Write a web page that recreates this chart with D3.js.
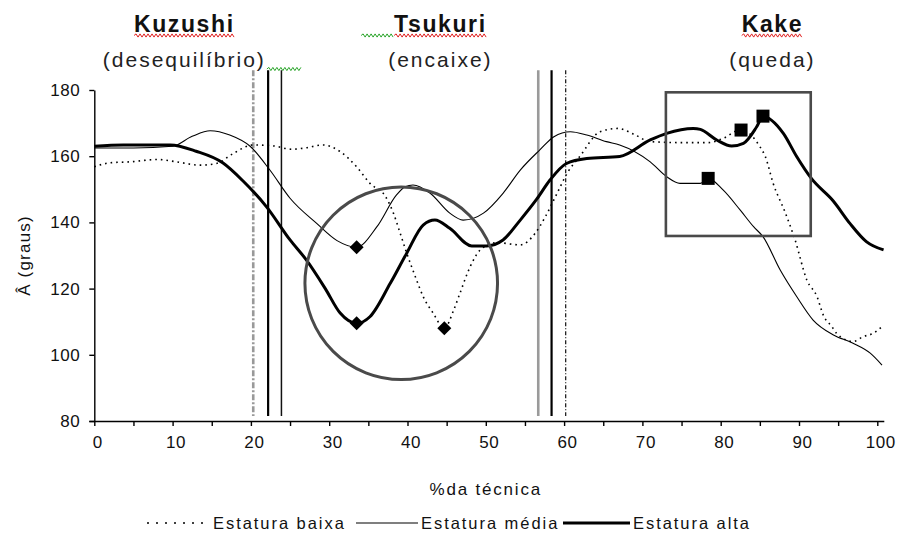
<!DOCTYPE html>
<html>
<head>
<meta charset="utf-8">
<script src="https://cdn.jsdelivr.net/npm/d3@7"></script>
<style>
  html, body { margin: 0; padding: 0; background: #fff; }
  svg { display: block; font-family: "Liberation Sans", Arial, sans-serif; }
</style>
</head>
<body>
<svg id="chart" width="900" height="538"></svg>
<script>
// ---- data ----
const seriesNames = ["Estatura baixa", "Estatura média", "Estatura alta"];

const baixaX = [0, 2, 4.6, 8, 10.5, 13.5, 15.6, 17.8, 20.3, 22.9, 25.2, 27, 29.2, 31.4, 33.5, 35.2, 37.2, 38.2, 39, 39.9, 41, 42, 43.3, 44.7, 45.9, 46.7, 48, 49.3, 51.4, 54.4, 56.3, 57.6, 58.9, 60.5, 62, 64.6, 66.9, 69, 71, 75.2, 78.4, 80.3, 82.6, 85, 85.7, 86.7, 88.2, 89.5, 91, 92.3, 93.1, 94.2, 94.8, 96.9, 98.2, 99.5, 100.6];
const baixaY = [156.8, 158, 158.3, 159, 158.3, 157.3, 157.8, 160.9, 163.4, 163.1, 162.1, 162.5, 163.4, 161.4, 156.8, 151.8, 147.8, 142.8, 137.2, 130.7, 123.6, 117.6, 112.5, 108, 113.5, 118.6, 126.6, 131.7, 133.9, 133.2, 136.7, 141.7, 147.8, 155.3, 159.9, 167.4, 168.4, 166.5, 164.4, 164.1, 164.1, 165.4, 168, 162.9, 159.9, 151.8, 143.2, 134.7, 122.6, 117.6, 112, 108.5, 106.5, 104, 105.5, 106.5, 108.5];

const mediaX = [0, 5, 10, 12.5, 14.8, 17.3, 19.9, 22.4, 25, 28.4, 31, 33.5, 36.1, 38.6, 39.7, 40.7, 42.9, 45.4, 47.1, 49.7, 52.2, 54.4, 56.9, 58.7, 60.8, 62.9, 65.4, 67.1, 71, 73.1, 74.8, 77.4, 78.4, 80.3, 82.5, 84.2, 85.4, 87.6, 89.7, 91.8, 94.4, 96.9, 99.1, 100.6];
const mediaY = [162.5, 162.5, 163, 166, 167.7, 166.4, 163, 155.9, 147.3, 139.7, 134.5, 132.5, 138.7, 148.3, 150.8, 151.3, 148.8, 142.8, 140.7, 142.8, 148.8, 155.8, 161.9, 165.9, 167.4, 166.4, 164.4, 163.4, 158.3, 153.8, 151.8, 151.8, 153.3, 149.8, 143.7, 138.7, 135.7, 125.6, 117.6, 110.5, 106, 103.5, 100.5, 96.9];

const altaX = [0, 3.7, 9.7, 13, 16.4, 19, 22, 25, 27.1, 29.5, 31.4, 33.5, 35.2, 37.8, 39.9, 42, 43.5, 45.4, 48.2, 50.1, 52.2, 54.4, 56.5, 58.2, 60.3, 62.9, 67.1, 71, 73.1, 76.5, 77.4, 79.5, 81.4, 82.9, 84.6, 85.4, 88, 89.7, 91.6, 94.4, 96.5, 98.6, 100.8];
const altaY = [163, 163.4, 163.4, 161.5, 158, 152.5, 144.7, 134.7, 128.6, 120, 112.6, 109.5, 111.5, 121.6, 130.7, 139.2, 140.7, 138.2, 132.9, 132.9, 134.7, 140.7, 147, 152.8, 157.8, 159.3, 159.9, 164.9, 166.9, 168.4, 168.1, 164.9, 163.1, 163.9, 168.9, 172, 166.9, 159.9, 153.2, 146.4, 139.7, 134.2, 131.7];

// highlighted minima (diamonds) and maxima (squares)
const diamondX = [33.5, 33.5, 44.7];
const diamondY = [132.5, 109.5, 108];
const squareX = [78.4, 82.6, 85.4];
const squareY = [153.3, 167.9, 172.1];

// phase boundaries (% of technique)
const phaseLinesX = [20.3, 22.2, 23.9, 56.7, 58.4, 60.2];

// phase headings
const phaseTitles = ["Kuzushi", "Tsukuri", "Kake"];
const phaseSubtitles = ["(desequilíbrio)", "(encaixe)", "(queda)"];
const phaseCentersX = [11.5, 44.2, 86.6];

// annotation regions
const circleCenter = [39.2, 121.6];
const circleRadiusX = 12.3;
const boxX = [73.0, 91.5];
const boxY = [135.9, 179.3];

const xTickValues = d3.range(0, 101, 5);
const yTickValues = [80, 100, 120, 140, 160, 180];
const xTitle = "%da técnica";
const yTitle = "Â (graus)";

// ---- layout ----
const svg = d3.select("#chart");
const x = d3.scaleLinear().domain([0, 100]).range([94.3, 877.3]);
const y = d3.scaleLinear().domain([80, 180]).range([421, 90]);

const FONT = "\"Liberation Sans\", Arial, sans-serif";

// phase boundary lines
const lineStyles = [
  { stroke: "#999", width: 2.6, dash: "6,2,2,2" },
  { stroke: "#000", width: 2.2, dash: null },
  { stroke: "#111", width: 1.5, dash: null },
  { stroke: "#9a9a9a", width: 2.6, dash: null },
  { stroke: "#000", width: 2.2, dash: null },
  { stroke: "#222", width: 1.3, dash: "4,2,1,2" }
];
svg.append("g").selectAll("line").data(phaseLinesX).join("line")
  .attr("x1", d => x(d)).attr("x2", d => x(d))
  .attr("y1", y(186)).attr("y2", y(81.5))
  .attr("stroke", (d, i) => lineStyles[i].stroke)
  .attr("stroke-width", (d, i) => lineStyles[i].width)
  .attr("stroke-dasharray", (d, i) => lineStyles[i].dash);

// series
const curve = d3.line().curve(d3.curveMonotoneX).x(d => x(d[0])).y(d => y(d[1]));
const zip = (a, b) => a.map((v, i) => [v, b[i]]);
const series = [
  { pts: zip(baixaX, baixaY), width: 1.6, dash: "1.6,4" },
  { pts: zip(mediaX, mediaY), width: 1.1, dash: null },
  { pts: zip(altaX, altaY), width: 3, dash: null }
];
svg.append("g").selectAll("path").data(series).join("path")
  .attr("d", d => curve(d.pts))
  .attr("fill", "none")
  .attr("stroke", "#000")
  .attr("stroke-width", d => d.width)
  .attr("stroke-dasharray", d => d.dash);

// annotation circle and box
const rPx = x(circleCenter[0] + circleRadiusX) - x(circleCenter[0]);
svg.append("circle")
  .attr("cx", x(circleCenter[0])).attr("cy", y(circleCenter[1])).attr("r", rPx)
  .attr("fill", "none").attr("stroke", "#4a4a4a").attr("stroke-width", 3);
svg.append("rect")
  .attr("x", x(boxX[0])).attr("y", y(boxY[1]))
  .attr("width", x(boxX[1]) - x(boxX[0])).attr("height", y(boxY[0]) - y(boxY[1]))
  .attr("fill", "none").attr("stroke", "#4a4a4a").attr("stroke-width", 2.6);

// markers
const dia = 7;
svg.append("g").selectAll("path").data(zip(diamondX, diamondY)).join("path")
  .attr("d", d => {
    const cx = x(d[0]), cy = y(d[1]);
    return `M${cx},${cy - dia}L${cx + dia},${cy}L${cx},${cy + dia}L${cx - dia},${cy}Z`;
  })
  .attr("fill", "#000");
const sq = 13;
svg.append("g").selectAll("rect").data(zip(squareX, squareY)).join("rect")
  .attr("x", d => x(d[0]) - sq / 2).attr("y", d => y(d[1]) - sq / 2)
  .attr("width", sq).attr("height", sq).attr("fill", "#000");

// axes
const xAxis = d3.axisBottom(x).tickValues(xTickValues).tickSize(5).tickSizeOuter(0)
  .tickFormat(d => d % 10 === 0 ? d : "");
const gx = svg.append("g").attr("transform", `translate(0,${y(80)})`).call(xAxis);
gx.select(".domain").attr("stroke", "#000").attr("stroke-width", 1.4)
  .attr("d", `M${x(0) - 5},0.5H${x(100) + 7}`);
gx.selectAll(".tick line").attr("stroke", "#000").attr("stroke-width", 1.4);
gx.selectAll(".tick text").attr("font-family", FONT).attr("font-size", 17)
  .attr("letter-spacing", 0.6).attr("fill", "#111").attr("dy", "1.1em").attr("dx", 3);

const yAxis = d3.axisLeft(y).tickValues(yTickValues).tickSize(5).tickSizeOuter(0);
const gy = svg.append("g").attr("transform", `translate(${x(0)},0)`).call(yAxis);
gy.select(".domain").attr("stroke", "#000").attr("stroke-width", 1.4);
gy.selectAll(".tick line").attr("stroke", "#000").attr("stroke-width", 1.4);
gy.selectAll(".tick text").attr("font-family", FONT).attr("font-size", 17)
  .attr("letter-spacing", 0.6).attr("fill", "#111").attr("x", -14);

// axis titles
svg.append("text").attr("x", (x(0) + x(100)) / 2).attr("y", 495)
  .attr("text-anchor", "middle").attr("font-size", 17).attr("letter-spacing", 1.8)
  .attr("fill", "#111").text(xTitle);
svg.append("text").attr("transform", `translate(30,${(y(80) + y(180)) / 2}) rotate(-90)`)
  .attr("text-anchor", "middle").attr("font-size", 17).attr("letter-spacing", 1.2)
  .attr("fill", "#111").text(yTitle);

// phase headings with proofing squiggles
function squiggle(x0, x1, yy, color) {
  let d = `M${x0},${yy}`;
  const step = 2;
  let up = true;
  for (let xx = x0 + step; xx <= x1; xx += step) {
    d += `L${xx},${yy + (up ? -1.6 : 1.6)}`;
    up = !up;
  }
  svg.append("path").attr("d", d).attr("fill", "none")
    .attr("stroke", color).attr("stroke-width", 1);
}
const titleG = svg.append("g");
phaseTitles.forEach((t, i) => {
  const cx = x(phaseCentersX[i]);
  const tt = titleG.append("text").attr("x", cx).attr("y", 32)
    .attr("text-anchor", "middle").attr("font-size", 23).attr("font-weight", "bold")
    .attr("letter-spacing", 1.6).attr("fill", "#111").text(t);
  const st = titleG.append("text").attr("x", cx).attr("y", 67)
    .attr("text-anchor", "middle").attr("font-size", 21)
    .attr("letter-spacing", 2).attr("fill", "#222").text(phaseSubtitles[i]);
  const b = tt.node().getBBox();
  if (i === 1) {
    squiggle(b.x - 33, b.x, 35.5, "#2aa52a");
  }
  squiggle(b.x, b.x + b.width, 35.5, "#e02020");
  if (i === 0) {
    const sb = st.node().getBBox();
    squiggle(sb.x + sb.width + 1, sb.x + sb.width + 36, 69, "#2aa52a");
  }
});

// legend
const legendItems = [
  { x0: 147, x1: 210, width: 1.6, dash: "2,7" },
  { x0: 356, x1: 418, width: 1.1, dash: null },
  { x0: 563, x1: 630, width: 3, dash: null }
];
const lg = svg.append("g");
legendItems.forEach((it, i) => {
  lg.append("line").attr("x1", it.x0).attr("x2", it.x1).attr("y1", 523).attr("y2", 523)
    .attr("stroke", "#000").attr("stroke-width", it.width).attr("stroke-dasharray", it.dash);
  lg.append("text").attr("x", it.x1 + 3).attr("y", 529)
    .attr("font-size", 16.5).attr("letter-spacing", 1.95).attr("fill", "#111")
    .text(seriesNames[i]);
});
</script>
</body>
</html>
